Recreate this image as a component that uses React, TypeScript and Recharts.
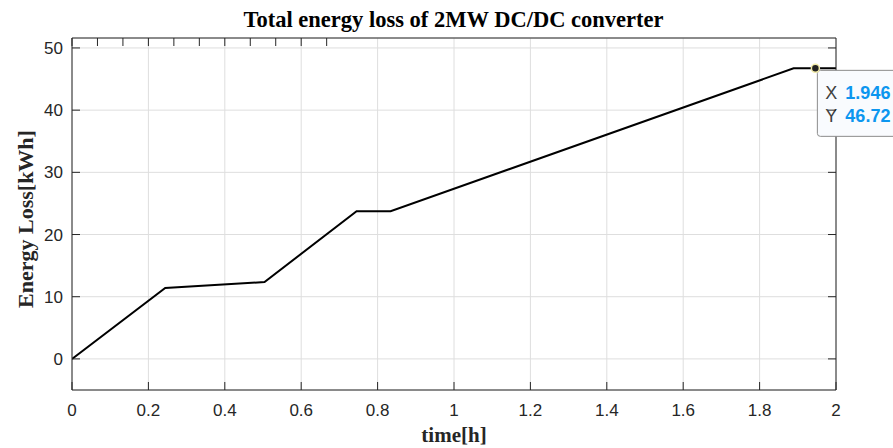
import React from "react";
import {
    LineChart,
    Line,
    XAxis,
    YAxis,
    CartesianGrid,
    ReferenceDot,
} from "recharts";

// values
const timeH = [0, 0.244, 0.504, 0.745, 0.834, 1.889, 2];
const energyKWh = [0, 11.4, 12.36, 23.75, 23.75, 46.72, 46.72];

const xTicks = [0, 0.2, 0.4, 0.6, 0.8, 1, 1.2, 1.4, 1.6, 1.8, 2];
const yTicks = [0, 10, 20, 30, 40, 50];

const tipX = 1.946;
const tipY = 46.72;

const data = timeH.map((t, i) => ({ t, e: energyKWh[i] }));

const AXIS = "#262626";
const SANS = "'Liberation Sans', Arial, sans-serif";
const SERIF = "'Liberation Serif', 'Times New Roman', serif";
const TICK_LEN = 8;

const fmt = (v: number) => String(Number(v.toFixed(1)));

const BottomTick = (props: any) => {
    const { x, y, payload } = props;
    return (
        <g>
            <line x1={x} x2={x} y1={y} y2={y - TICK_LEN} stroke={AXIS} />
            <text x={x} y={y + 26} textAnchor="middle" fill={AXIS} fontSize={17} fontFamily={SANS}>
                {fmt(payload.value)}
            </text>
        </g>
    );
};

const TopTick = (props: any) => {
    const { x, y } = props;
    return <line x1={x} x2={x} y1={y} y2={y + TICK_LEN} stroke={AXIS} />;
};

const LeftTick = (props: any) => {
    const { x, y, payload } = props;
    return (
        <g>
            <line x1={x} x2={x + TICK_LEN} y1={y} y2={y} stroke={AXIS} />
            <text x={x - 9} y={y + 6} textAnchor="end" fill={AXIS} fontSize={17} fontFamily={SANS}>
                {fmt(payload.value)}
            </text>
        </g>
    );
};

const RightTick = (props: any) => {
    const { x, y } = props;
    return <line x1={x} x2={x - TICK_LEN} y1={y} y2={y} stroke={AXIS} />;
};

const DataTip = (props: any) => {
    const { cx, cy } = props;
    return (
        <g>
            <rect x={cx + 2} y={cy + 2} width={92} height={66} rx={3} fill="#f9fbfe" stroke="#8c8c8c" />
            <text x={cx + 10} y={cy + 31} fontSize={18} fontFamily={SANS} fill="#404040">X</text>
            <text x={cx + 30} y={cy + 31} fontSize={18} fontFamily={SANS} fontWeight="bold" fill="#0c96ef">
                {tipX}
            </text>
            <text x={cx + 10} y={cy + 54} fontSize={18} fontFamily={SANS} fill="#404040">Y</text>
            <text x={cx + 30} y={cy + 54} fontSize={18} fontFamily={SANS} fontWeight="bold" fill="#0c96ef">
                {tipY}
            </text>
            <circle cx={cx} cy={cy} r={4} fill="#222" stroke="#f3ecaa" strokeWidth={1.5} />
        </g>
    );
};

export default function App() {
    return (
        <div style={{ position: "absolute", left: 0, top: 0, width: 893, height: 448, background: "#fff" }}>
            <div
                style={{
                    position: "absolute", left: 0, width: 907, top: 9, textAlign: "center", lineHeight: 1,
                    fontFamily: SERIF, fontWeight: "bold", fontSize: 22.5, color: "#000", whiteSpace: "nowrap",
                }}
            >
                Total energy loss of 2MW DC/DC converter
            </div>
            <div
                style={{
                    position: "absolute", left: 72, width: 764, top: 425, textAlign: "center", lineHeight: 1,
                    fontFamily: SERIF, fontWeight: "bold", fontSize: 21, color: "#262626",
                }}
            >
                time[h]
            </div>
            <div
                style={{
                    position: "absolute", left: 26, top: 219, transform: "translate(-50%, -50%) rotate(-90deg)",
                    whiteSpace: "nowrap", fontFamily: SERIF, fontWeight: "bold", fontSize: 22, color: "#262626",
                    lineHeight: 1,
                }}
            >
                Energy Loss[kWh]
            </div>
            <LineChart width={893} height={448} data={data} margin={{ top: 37, right: 56, left: 12, bottom: 28 }}>
                <CartesianGrid xAxisId="b" yAxisId="l" stroke="#dedede" strokeWidth={1} />
                <XAxis
                    xAxisId="b" dataKey="t" type="number" domain={[0, 2]} ticks={xTicks} height={30}
                    tick={<BottomTick />} tickSize={0} tickMargin={0} tickLine={false}
                    axisLine={{ stroke: AXIS }} interval={0} allowDataOverflow
                />
                <XAxis
                    xAxisId="t" orientation="top" type="number" domain={[0, 2]} ticks={xTicks} height={1}
                    tick={<TopTick />} tickSize={0} tickMargin={0} tickLine={false}
                    axisLine={{ stroke: AXIS }} interval={0} allowDataOverflow
                />
                <YAxis
                    yAxisId="l" type="number" domain={[-5, 51.6]} ticks={yTicks} width={60}
                    tick={<LeftTick />} tickSize={0} tickMargin={0} tickLine={false}
                    axisLine={{ stroke: AXIS }} interval={0} allowDataOverflow
                />
                <YAxis
                    yAxisId="r" orientation="right" type="number" domain={[-5, 51.6]} ticks={yTicks} width={1}
                    tick={<RightTick />} tickSize={0} tickMargin={0} tickLine={false}
                    axisLine={{ stroke: AXIS }} interval={0} allowDataOverflow
                />
                <Line
                    xAxisId="b" yAxisId="l" type="linear" dataKey="e" stroke="#000" strokeWidth={2}
                    dot={false} isAnimationActive={false}
                />
                <ReferenceDot
                    xAxisId="b" yAxisId="l" x={tipX} y={tipY} ifOverflow="visible" shape={<DataTip />}
                />
            </LineChart>
        </div>
    );
}
